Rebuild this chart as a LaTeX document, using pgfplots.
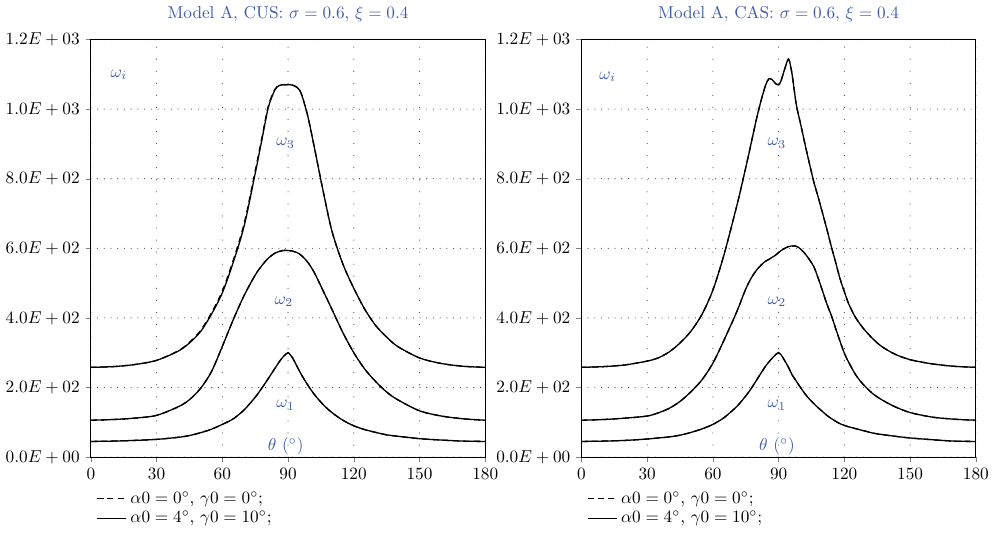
\documentclass[border=0pt]{standalone}
\usepackage{pgfplots}
\pgfplotsset{compat=1.18}
\usepackage{pgfplotstable}
\definecolor{labblue}{RGB}{63,92,170}

% CUS panel
\pgfplotstableread{
theta w1 w2 w3 w3d
0   45  106 258 258
10  46  108 260 260
20  48  112 266 266
30  51  120 278 278
40  57  145 305 306
45  62  165 328 330
50  70  197 360 363
55  80  245 410 414
60  94  318 472 477
65  110 395 560 566
70  136 465 665 672
75  172 523 815 822
78  198 550 910 916
81  226 572 1005 1009
84  255 586 1055 1057
86  274 591 1068 1069
88  290 594 1070 1070
90  300 594 1070 1070
91  294 593 1070 1070
92  286 592 1069 1069
94  262 588 1063 1063
96  238 580 1045 1045
99  207 560 980 980
102 180 530 890 890
106 151 478 765 765
110 128 425 650 650
115 106 358 555 555
120 90  300 485 485
125 79  253 425 425
130 71  217 378 378
135 64  187 345 345
140 60  165 318 318
150 53  133 285 285
160 49  118 269 269
170 46  110 261 261
180 45  106 258 258
}\cus

% CAS panel
\pgfplotstableread{
theta w1 w2 w3
0    45  106 258
10   46  108 260
20   48  112 265
30   52  118 276
35   55  127 285
40   58  140 302
45   63  160 328
50   71  188 362
55   81  222 410
60   94  270 480
65   113 335 580
70   140 405 700
72   153 435 750
74   168 468 805
76   184 497 860
78   202 520 918
80   222 538 975
82   242 552 1025
84   261 563 1068
85.5 273 568 1087
87   284 574 1085
88.5 294 580 1074
90   300 588 1070
91   295 593 1080
92.5 280 599 1110
94.5 258 605 1144
96   238 607 1105
97   228 607 1060
98   219 606 1015
99   209 603 985
100  200 598 958
102  182 585 900
104  167 568 845
106  154 548 792
108  142 515 748
110  131 478 702
112  120 440 655
114  111 408 606
116  103 370 560
118  96  333 513
120  91  298 475
122  87  272 440
125  82  238 402
128  77  213 375
130  74  200 360
133  69  182 340
137  65  165 318
143  60  145 296
150  55  128 280
160  50  115 268
170  46  109 261
180  45  106 258
}\cas

\pgfplotsset{
  panel/.style={
    scale only axis, width=229pt, height=242.4pt,
    xmin=0, xmax=180, ymin=0, ymax=1200,
    xtick={0,30,...,180}, ytick={0,200,...,1200},
    yticklabels={$0.0E+00$,$2.0E+02$,$4.0E+02$,$6.0E+02$,$8.0E+02$,$1.0E+03$,$1.2E+03$},
    tick align=outside, xtick pos=lower, ytick pos=left,
    major tick length=2.9pt,
    xmajorgrids, ymajorgrids,
    x grid style={black!75, line width=0.65pt, line cap=round, dash pattern=on 0pt off 7pt},
    y grid style={black!75, line width=0.65pt, line cap=round, dash pattern=on 0pt off 3.9pt},
    axis line style={line width=0.65pt},
    title style={text=labblue, yshift=1pt},
    legend style={at={(0,-0.065)}, anchor=north west, draw=none, fill=none,
      row sep=-1pt, nodes={inner sep=2pt}},
    legend cell align=left,
  },
  dsh/.style={black, line width=0.75pt, smooth, no marks, dash pattern=on 3.5pt off 2.5pt},
  sld/.style={black, line width=0.75pt, smooth, no marks},
}

\begin{document}
\begin{tikzpicture}
\path (-52.2pt,-46.4pt) rectangle (527.8pt,263.9pt);

\begin{axis}[panel, at={(0,0)}, anchor=south west,
  title={Model A, CUS: $\sigma = 0.6$, $\xi = 0.4$}]
\addplot[dsh] table[x=theta, y=w1] {\cus};
\addplot[sld] table[x=theta, y=w1] {\cus};
\addplot[dsh, forget plot] table[x=theta, y=w2] {\cus};
\addplot[sld, forget plot] table[x=theta, y=w2] {\cus};
\addplot[dsh, forget plot] table[x=theta, y=w3d] {\cus};
\addplot[sld, forget plot] table[x=theta, y=w3] {\cus};
\legend{{$\alpha0 = 0^\circ$, $\gamma0 = 0^\circ$;}, {$\alpha0 = 4^\circ$, $\gamma0 = 10^\circ$;}}
\node[text=labblue] at (axis cs:12.8,1099) {$\omega_i$};
\node[text=labblue] at (axis cs:88.9,902) {$\omega_3$};
\node[text=labblue] at (axis cs:88.1,446) {$\omega_2$};
\node[text=labblue] at (axis cs:88.9,149) {$\omega_1$};
\node[text=labblue] at (axis cs:88.9,30) {$\theta$ ($^\circ$)};
\end{axis}

\begin{axis}[panel, at={(284.8pt,0)}, anchor=south west,
  title={Model A, CAS: $\sigma = 0.6$, $\xi = 0.4$}]
\addplot[dsh] table[x=theta, y=w1] {\cas};
\addplot[sld] table[x=theta, y=w1] {\cas};
\addplot[dsh, forget plot] table[x=theta, y=w2] {\cas};
\addplot[sld, forget plot] table[x=theta, y=w2] {\cas};
\addplot[dsh, forget plot] table[x=theta, y=w3] {\cas};
\addplot[sld, forget plot] table[x=theta, y=w3] {\cas};
\legend{{$\alpha0 = 0^\circ$, $\gamma0 = 0^\circ$;}, {$\alpha0 = 4^\circ$, $\gamma0 = 10^\circ$;}}
\node[text=labblue] at (axis cs:12,1093) {$\omega_i$};
\node[text=labblue] at (axis cs:89.2,902) {$\omega_3$};
\node[text=labblue] at (axis cs:89.2,446) {$\omega_2$};
\node[text=labblue] at (axis cs:89.2,149) {$\omega_1$};
\node[text=labblue] at (axis cs:89.2,30) {$\theta$ ($^\circ$)};
\end{axis}
\end{tikzpicture}
\end{document}
